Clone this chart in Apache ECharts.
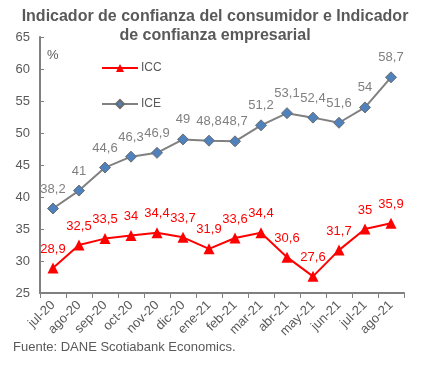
<!DOCTYPE html>
<html><head><meta charset="utf-8">
<script src="https://cdn.jsdelivr.net/npm/echarts@6/dist/echarts.min.js"></script>
<style>html,body{margin:0;padding:0;background:#fff}#c{width:430px;height:370px}</style>
</head><body><div id="c"></div>
<script>
const categories = ['jul-20','ago-20','sep-20','oct-20','nov-20','dic-20','ene-21','feb-21','mar-21','abr-21','may-21','jun-21','jul-21','ago-21'];
const icc = [28.9, 32.5, 33.5, 34, 34.4, 33.7, 31.9, 33.6, 34.4, 30.6, 27.6, 31.7, 35, 35.9];
const ice = [38.2, 41, 44.6, 46.3, 46.9, 49, 48.8, 48.7, 51.2, 53.1, 52.4, 51.6, 54, 58.7];
const yTicks = [25, 30, 35, 40, 45, 50, 55, 60, 65];

const fmt = p => String(p.value).replace('.', ',');
const chart = echarts.init(document.getElementById('c'));
chart.setOption({
  animation: false,
  textStyle: { fontFamily: 'Liberation Sans, Arial, sans-serif' },
  title: {
    text: 'Indicador de confianza del consumidor e Indicador\nde confianza empresarial',
    left: 'center', top: 2,
    textStyle: { fontSize: 16, fontWeight: 'bold', color: '#595959', lineHeight: 19, fontFamily: 'Liberation Sans, Arial, sans-serif' }
  },
  legend: {
    orient: 'vertical', left: 96, top: 57, itemWidth: 36, itemHeight: 10, itemGap: 24,
    textStyle: { fontSize: 12, color: '#595959', padding: [0,0,0,-2] },
    data: ['ICC', 'ICE']
  },
  graphic: [
    { type: 'text', left: 47, top: 49, style: { text: '%', fontSize: 13, fill: '#595959', fontFamily: 'Liberation Sans, Arial, sans-serif' } },
    { type: 'text', left: 13, top: 341, style: { text: 'Fuente: DANE Scotiabank Economics.', fontSize: 13, fill: '#595959', fontFamily: 'Liberation Sans, Arial, sans-serif' } }
  ],
  grid: { left: 40, right: 26, top: 37, bottom: 77, containLabel: false },
  xAxis: {
    type: 'category', data: categories, boundaryGap: true,
    axisLine: { lineStyle: { color: '#808080', width: 2 } },
    axisTick: { show: true, alignWithLabel: false, length: 5, lineStyle: { color: '#808080' } },
    axisLabel: { rotate: 45, fontSize: 13, color: '#595959', margin: 10, interval: 0 }
  },
  yAxis: {
    type: 'value', min: yTicks[0], max: yTicks[yTicks.length-1], interval: 5,
    axisLine: { show: true, lineStyle: { color: '#808080', width: 2 } },
    axisTick: { show: true, inside: true, length: 4, lineStyle: { color: '#808080' } },
    splitLine: { show: false },
    axisLabel: { fontSize: 13, color: '#595959', margin: 10 }
  },
  series: [
    {
      name: 'ICC', type: 'line', data: icc,
      symbol: 'triangle', symbolSize: 11,
      lineStyle: { color: '#ff0000', width: 2 },
      itemStyle: { color: '#ff0000' },
      label: { show: true, position: 'top', distance: 7, fontSize: 13, color: '#ff0000', formatter: fmt }
    },
    {
      name: 'ICE', type: 'line', data: ice,
      symbol: 'diamond', symbolSize: 11,
      lineStyle: { color: '#808080', width: 2 },
      itemStyle: { color: '#4f81bd', borderColor: '#6b6b6b', borderWidth: 1 },
      label: { show: true, position: 'top', distance: 7, fontSize: 13, color: '#7f7f7f', formatter: fmt }
    }
  ]
});
</script></body></html>
